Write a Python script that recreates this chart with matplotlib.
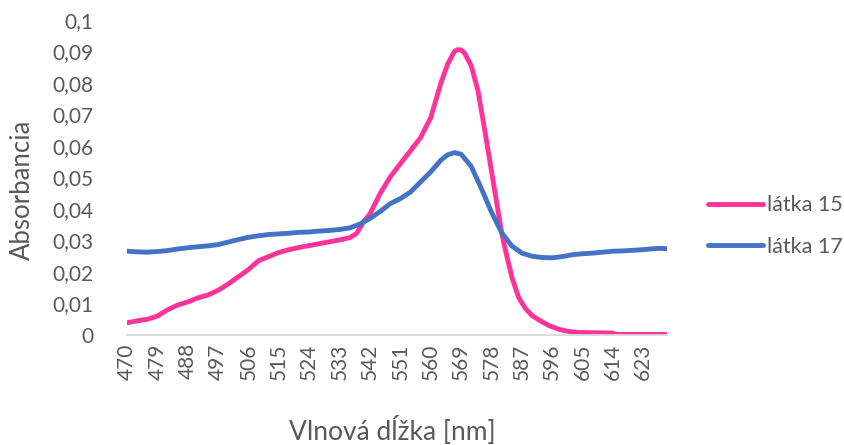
import matplotlib
matplotlib.use("Agg")
import matplotlib.pyplot as plt
from matplotlib.ticker import FixedLocator, FuncFormatter

# Absorption spectra of two substances
wl_15 = [470, 473, 476, 479, 482, 485, 488, 491, 494, 497, 500, 503, 506, 509,
         512, 515, 518, 521, 524, 527, 530, 533, 536, 538, 540, 542, 545, 548,
         551, 554, 557, 560, 563, 565, 567, 568, 569, 570, 572, 574, 576, 578,
         580, 581, 582, 584, 586, 588, 590, 592, 595, 598, 601, 604, 610, 614,
         615, 620, 625, 630]
abs_15 = [0.0039, 0.0045, 0.0050, 0.0060, 0.0080, 0.0095, 0.0105, 0.0118,
          0.0127, 0.0142, 0.0162, 0.0185, 0.0208, 0.0236, 0.0249, 0.0262,
          0.0271, 0.0278, 0.0284, 0.0290, 0.0296, 0.0302, 0.0309, 0.0322,
          0.0358, 0.0385, 0.0449, 0.0502, 0.0544, 0.0585, 0.0627, 0.0690,
          0.0800, 0.0860, 0.0900, 0.0906, 0.0905, 0.0895, 0.0855, 0.0775,
          0.0650, 0.0520, 0.0390, 0.0325, 0.0275, 0.0185, 0.0120, 0.0085,
          0.0062, 0.0048, 0.0030, 0.0018, 0.0011, 0.0008, 0.0007, 0.0006,
          0.0002, 0.0002, 0.0002, 0.0002]

wl_17 = [470, 473, 476, 479, 482, 485, 488, 491, 494, 497, 500, 503, 506, 509,
         512, 515, 518, 521, 524, 527, 530, 533, 536, 539, 542, 545, 548, 551,
         554, 557, 560, 563, 565, 567, 569, 572, 575, 578, 581, 584, 587, 590,
         593, 596, 599, 602, 605, 608, 611, 614, 617, 620, 623, 626, 628, 630]
abs_17 = [0.0266, 0.0264, 0.0263, 0.0265, 0.0268, 0.0273, 0.0277, 0.0280,
          0.0283, 0.0287, 0.0295, 0.0303, 0.0310, 0.0315, 0.0319, 0.0321,
          0.0323, 0.0326, 0.0327, 0.0330, 0.0332, 0.0335, 0.0340, 0.0352,
          0.0370, 0.0392, 0.0417, 0.0433, 0.0454, 0.0486, 0.0518, 0.0555,
          0.0572, 0.0579, 0.0574, 0.0535, 0.0465, 0.0390, 0.0325, 0.0283,
          0.0260, 0.0250, 0.0246, 0.0245, 0.0249, 0.0255, 0.0258, 0.0260,
          0.0263, 0.0266, 0.0267, 0.0269, 0.0271, 0.0274, 0.0275, 0.0274]

x_ticks = list(range(470, 624, 9))
y_ticks = [0, 0.01, 0.02, 0.03, 0.04, 0.05, 0.06, 0.07, 0.08, 0.09, 0.1]

labels = ["látka 15", "látka 17"]
colors = ["#FF3399", "#4472C4"]

plt.rcParams["font.family"] = ["Lato", "DejaVu Sans"]
text_col = "#595959"

W, H = 845, 445
fig = plt.figure(figsize=(W / 100, H / 100), dpi=100)
ax = fig.add_axes([127 / W, 110 / H, 540 / W, 315 / H])

ax.plot(wl_15, abs_15, color=colors[0], lw=3.5, solid_capstyle="round",
        solid_joinstyle="round", label=labels[0])
ax.plot(wl_17, abs_17, color=colors[1], lw=3.5, solid_capstyle="round",
        solid_joinstyle="round", label=labels[1])

ax.set_xlim(470, 630)
ax.set_ylim(0, 0.1)

for s in ["top", "right", "left"]:
    ax.spines[s].set_visible(False)
ax.spines["bottom"].set_color("#D9D9D9")
ax.spines["bottom"].set_linewidth(1.3)

ax.xaxis.set_major_locator(FixedLocator(x_ticks))
ax.yaxis.set_major_locator(FixedLocator(y_ticks))
ax.yaxis.set_major_formatter(
    FuncFormatter(lambda v, p: ("%g" % round(v, 2)).replace(".", ",")))
ax.tick_params(axis="x", length=0, pad=6, labelsize=15,
               labelcolor=text_col, labelrotation=90)
ax.tick_params(axis="y", length=0, pad=24, labelsize=15,
               labelcolor=text_col)

fig.text(22 / W, 1 - 190 / H, "Absorbancia", rotation=90, ha="center",
         va="center", fontsize=18.5, color=text_col)
fig.text(392 / W, 1 - 431 / H, "Vlnová dĺžka [nm]", ha="center",
         va="center", fontsize=19, color=text_col)

leg = ax.legend(loc="center left", bbox_to_anchor=(708 / W, 1 - 226 / H),
                bbox_transform=fig.transFigure, frameon=False,
                fontsize=15.5, handlelength=2.55, handletextpad=0.2,
                labelspacing=1.0, borderaxespad=0, borderpad=0)
for t in leg.get_texts():
    t.set_color(text_col)

fig.savefig("out.png", dpi=100, facecolor="white")
